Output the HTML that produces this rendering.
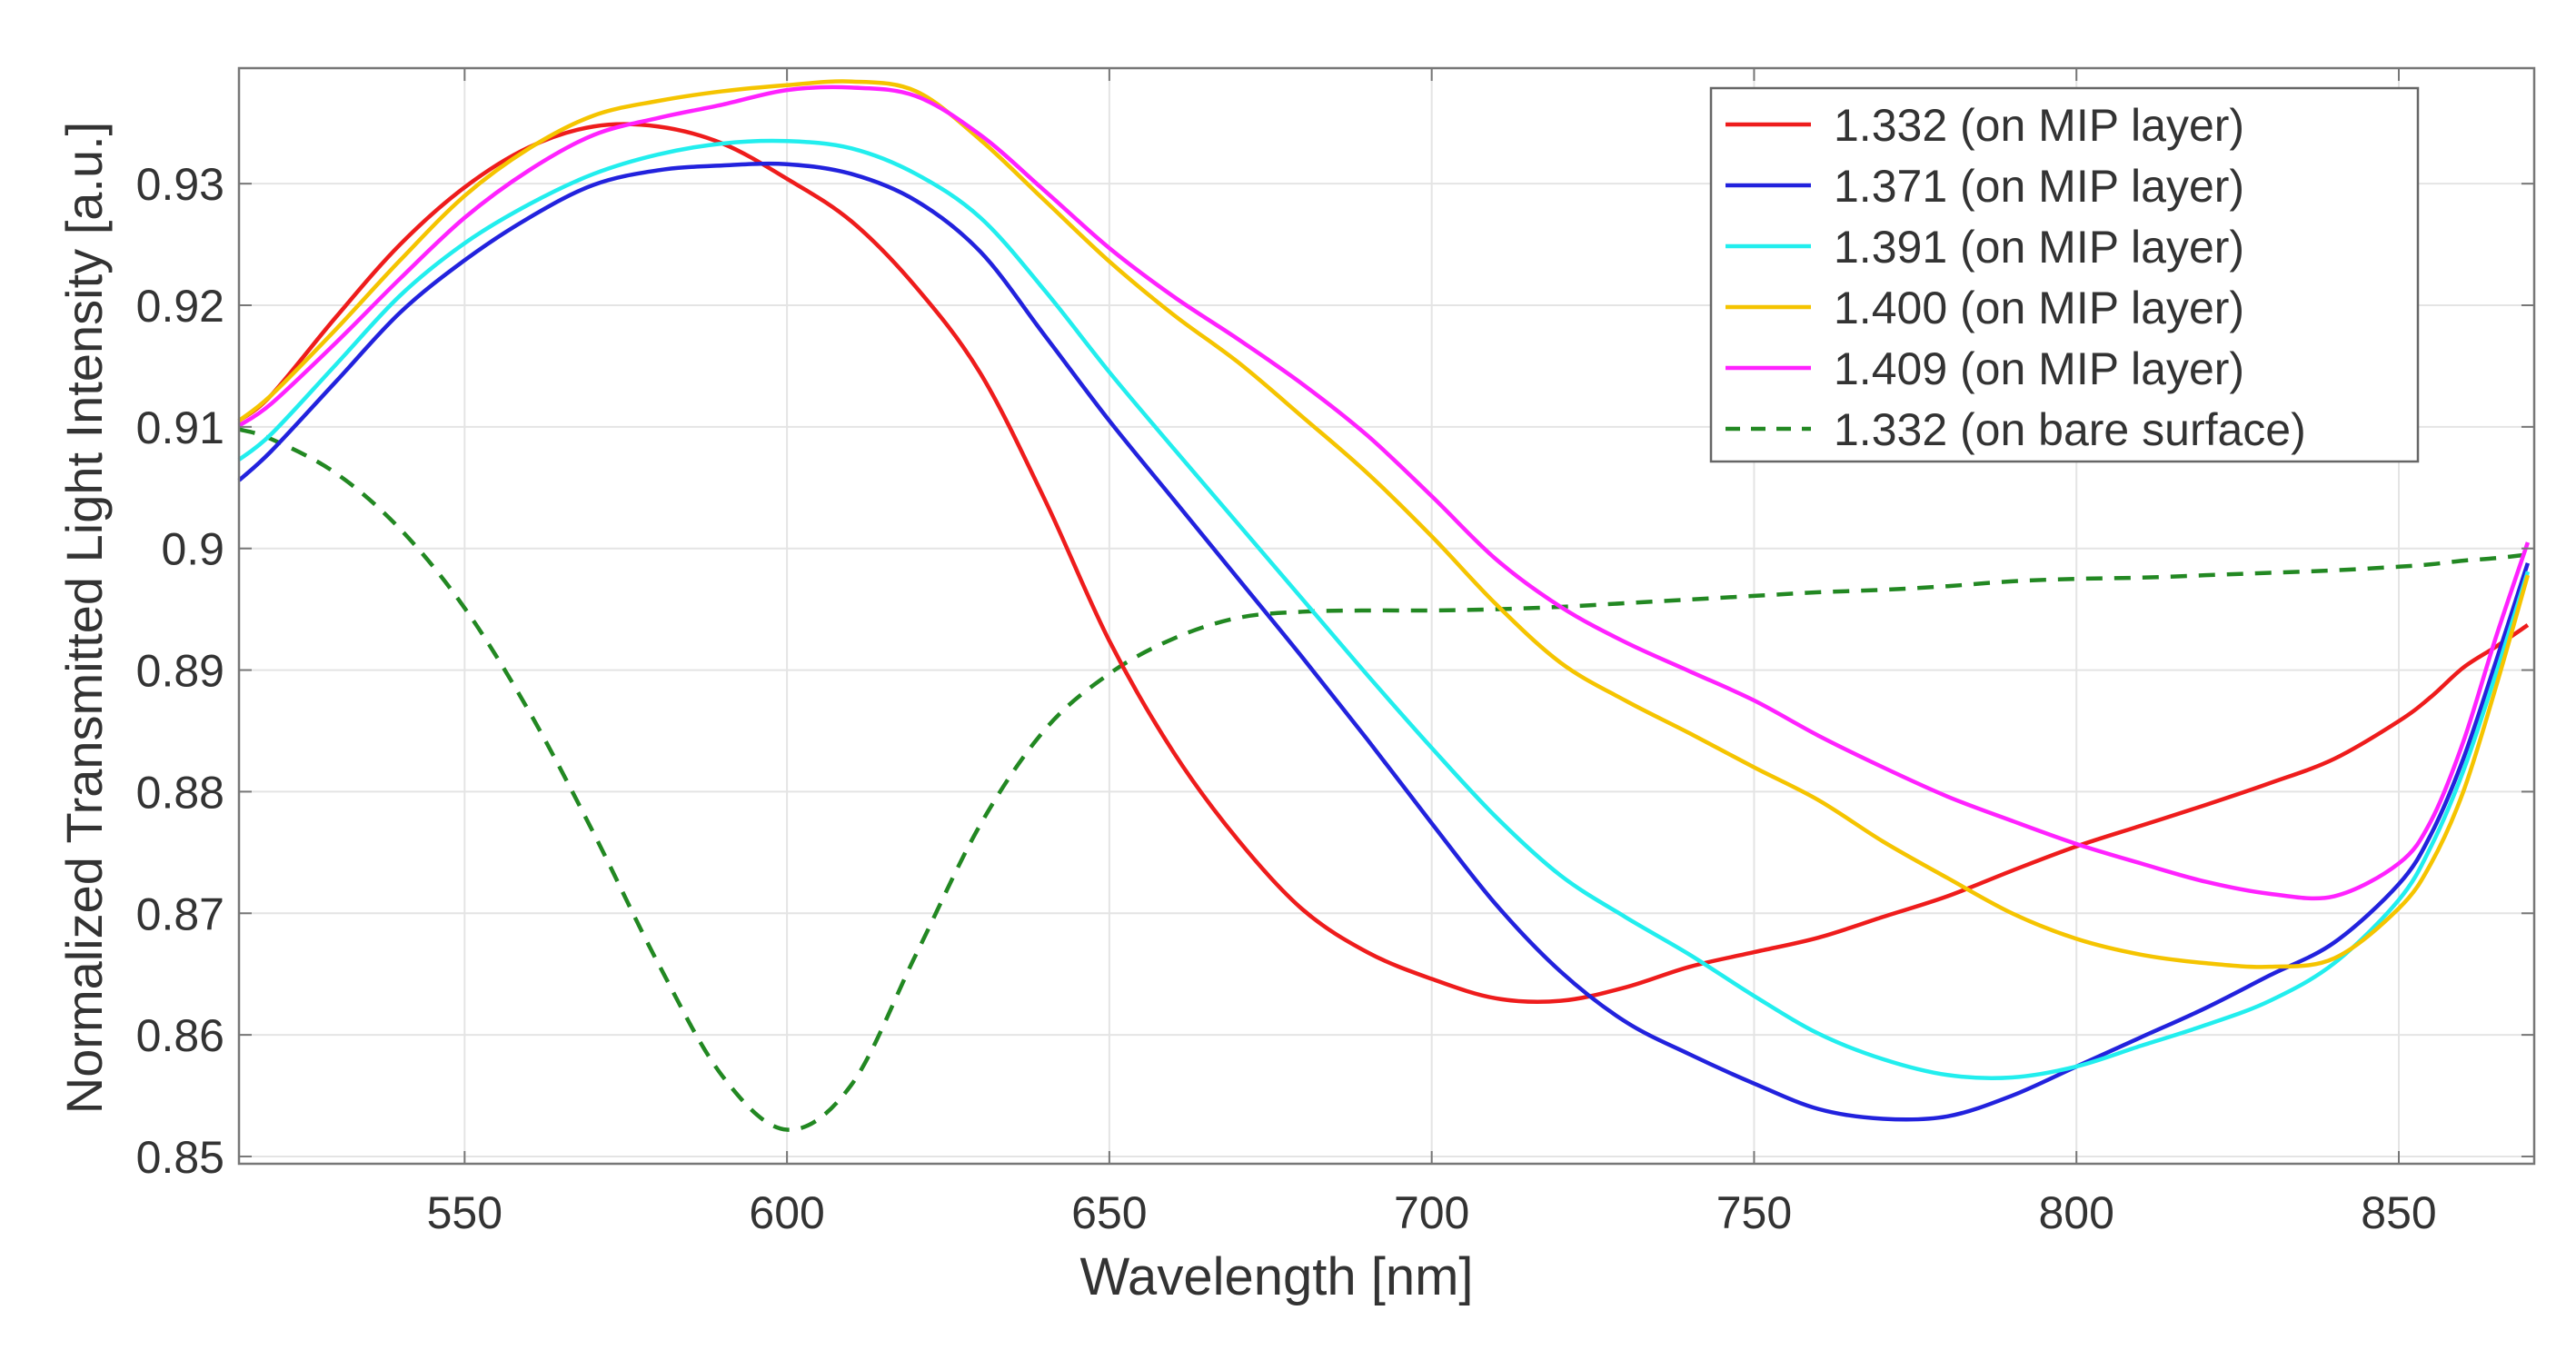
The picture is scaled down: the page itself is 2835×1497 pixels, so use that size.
<!DOCTYPE html>
<html><head><meta charset="utf-8"><style>
html,body{margin:0;padding:0;background:#fff;}
svg{display:block;font-family:"Liberation Sans",Arial,sans-serif;}
</style></head><body>
<svg id="chart" width="2835" height="1497" viewBox="0 0 2835 1497" xmlns="http://www.w3.org/2000/svg">
<g id="grid"></g>
<g id="series"></g>
<g id="axes"></g>
<text x="1405" y="1425" font-size="58" fill="#333" text-anchor="middle">Wavelength [nm]</text>
<text transform="translate(112,680) rotate(-90)" font-size="56" fill="#333" text-anchor="middle">Normalized Transmitted Light Intensity [a.u.]</text>
<g id="legend"></g>
</svg>
<script>
const wl = [515,520,530,540,550,560,570,580,590,600,610,620,630,640,650,660,670,680,690,700,710,720,730,740,750,760,770,780,790,800,810,820,830,840,850,855,860,865,870];
const red = [0.9105,0.9126,0.919,0.925,0.9297,0.933,0.9347,0.9347,0.9333,0.9304,0.9269,0.9215,0.9144,0.904,0.8924,0.8832,0.876,0.8703,0.8668,0.8646,0.863,0.8628,0.8639,0.8656,0.8668,0.868,0.8697,0.8714,0.8735,0.8755,0.8772,0.8789,0.8807,0.8827,0.8858,0.8878,0.8902,0.8919,0.8937];
const blue = [0.9056,0.908,0.9137,0.9194,0.9237,0.9272,0.9299,0.9311,0.9315,0.9316,0.9308,0.9286,0.9244,0.9175,0.9105,0.904,0.8975,0.891,0.8843,0.8774,0.8707,0.8652,0.8611,0.8584,0.856,0.8539,0.8531,0.8533,0.855,0.8574,0.8598,0.8622,0.8649,0.8676,0.8724,0.8765,0.8827,0.8906,0.8988];
const cyan = [0.9073,0.9094,0.9151,0.9208,0.9251,0.9283,0.9308,0.9324,0.9333,0.9335,0.9329,0.9308,0.9272,0.9212,0.9145,0.9082,0.902,0.8958,0.8896,0.8836,0.8779,0.8731,0.8697,0.8666,0.8632,0.8601,0.858,0.8567,0.8565,0.8574,0.8591,0.8608,0.8628,0.8659,0.8711,0.8755,0.8817,0.8896,0.8981];
const yellow = [0.9105,0.9126,0.918,0.9237,0.929,0.9329,0.9356,0.9368,0.9376,0.9381,0.9384,0.9376,0.9336,0.9286,0.9236,0.9192,0.9153,0.9108,0.9062,0.901,0.8954,0.8906,0.8875,0.8848,0.882,0.8793,0.8759,0.8729,0.87,0.8679,0.8666,0.8659,0.8656,0.8663,0.8704,0.8741,0.88,0.8885,0.8978];
const magenta = [0.9101,0.9119,0.9169,0.9222,0.9272,0.9311,0.934,0.9354,0.9365,0.9377,0.9379,0.9372,0.934,0.9294,0.9247,0.9207,0.9172,0.9135,0.9093,0.9043,0.8991,0.8952,0.8923,0.8899,0.8875,0.8846,0.882,0.8796,0.8776,0.8757,0.8741,0.8726,0.8716,0.8714,0.8741,0.8776,0.8841,0.8926,0.9005];
const bare = [0.9098,0.909,0.9062,0.9016,0.8951,0.8866,0.8766,0.8659,0.8566,0.8522,0.8559,0.8666,0.8773,0.8851,0.8897,0.8926,0.8943,0.8948,0.8949,0.8949,0.895,0.8952,0.8955,0.8958,0.8961,0.8964,0.8966,0.8969,0.8973,0.8975,0.8976,0.8978,0.898,0.8982,0.8985,0.8987,0.899,0.8992,0.8995];
const xTicks = [550,600,650,700,750,800,850];
const yTicks = [0.85,0.86,0.87,0.88,0.89,0.9,0.91,0.92,0.93];
const yTickLabels = ["0.85","0.86","0.87","0.88","0.89","0.9","0.91","0.92","0.93"];
const seriesNames = ["1.332 (on MIP layer)","1.371 (on MIP layer)","1.391 (on MIP layer)","1.400 (on MIP layer)","1.409 (on MIP layer)","1.332 (on bare surface)"];
const seriesData = [red,blue,cyan,yellow,magenta,bare];
const colors = ["#ee1c1c","#2222dd","#22eeee","#f5c400","#ff22ff","#228822"];

const L=263,R=2789,T=75,B=1281;
const X0=515,X1=871,Y0=0.8494,Y1=0.9395;
const sx=v=>L+(v-X0)/(X1-X0)*(R-L);
const sy=v=>B-(v-Y0)/(Y1-Y0)*(B-T);
const NS="http://www.w3.org/2000/svg";
function mk(tag,attrs,parent){const e=document.createElementNS(NS,tag);for(const k in attrs)e.setAttribute(k,attrs[k]);parent.appendChild(e);return e;}
const grid=document.getElementById('grid'),axes=document.getElementById('axes'),ser=document.getElementById('series'),leg=document.getElementById('legend');
xTicks.forEach(t=>{
  const g=mk('line',{x1:sx(t),x2:sx(t),y1:T,y2:B,stroke:'#e4e4e4','stroke-width':2},grid);
  
  
  const k=mk('line',{x1:sx(t),x2:sx(t),y1:B,y2:B-14,stroke:'#777','stroke-width':2},axes);
  
  
  const k2=mk('line',{x1:sx(t),x2:sx(t),y1:T,y2:T+14,stroke:'#777','stroke-width':2},axes);
  
  
  const tx=mk('text',{x:sx(t),y:1352,'font-size':50,fill:'#333','text-anchor':'middle'},axes);
  tx.textContent=t;
  
  
});
yTicks.forEach((t,i)=>{
  const g=mk('line',{x1:L,x2:R,y1:sy(t),y2:sy(t),stroke:'#e4e4e4','stroke-width':2},grid);
  
  
  const k=mk('line',{x1:L,x2:L+14,y1:sy(t),y2:sy(t),stroke:'#777','stroke-width':2},axes);
  
  
  const k2=mk('line',{x1:R,x2:R-14,y1:sy(t),y2:sy(t),stroke:'#777','stroke-width':2},axes);
  
  
  const tx=mk('text',{x:247,y:sy(t)+18,'font-size':50,fill:'#333','text-anchor':'end'},axes);
  tx.textContent=yTickLabels[i];
  
  
});
const frame=mk('rect',{x:L,y:T,width:R-L,height:B-T,fill:'none',stroke:'#777','stroke-width':2.5},axes);


function pathFor(ys){
  const p=wl.map((w,i)=>[sx(w),sy(ys[i])]);
  let d=`M${p[0][0]},${p[0][1]}`;
  for(let i=0;i<p.length-1;i++){
    const p0=p[Math.max(0,i-1)],p1=p[i],p2=p[i+1],p3=p[Math.min(p.length-1,i+2)];
    const c1=[p1[0]+(p2[0]-p0[0])/6,p1[1]+(p2[1]-p0[1])/6];
    const c2=[p2[0]-(p3[0]-p1[0])/6,p2[1]-(p3[1]-p1[1])/6];
    d+=` C${c1[0]},${c1[1]} ${c2[0]},${c2[1]} ${p2[0]},${p2[1]}`;
  }
  return d;
}
const order=[5,0,1,2,3,4];
order.forEach(i=>{
  const a={d:pathFor(seriesData[i]),fill:'none',stroke:colors[i],'stroke-width':4.5,'stroke-linejoin':'round'};
  if(i===5)a['stroke-dasharray']='18 13';
  const p=mk('path',a,ser);
  
  
});
const box=mk('rect',{x:1883,y:97,width:778,height:411,fill:'#fff',stroke:'#666','stroke-width':2.5},leg);


seriesNames.forEach((n,i)=>{
  const cy=137+i*67;
  const a={x1:1899,x2:1993,y1:cy,y2:cy,stroke:colors[i],'stroke-width':4.5};
  if(i===5)a['stroke-dasharray']='16 12';
  const l=mk('line',a,leg);
  
  
  const t=mk('text',{x:2018,y:cy+18,'font-size':50,fill:'#333'},leg);
  t.textContent=n;
  
  
});
</script>
</body></html>
